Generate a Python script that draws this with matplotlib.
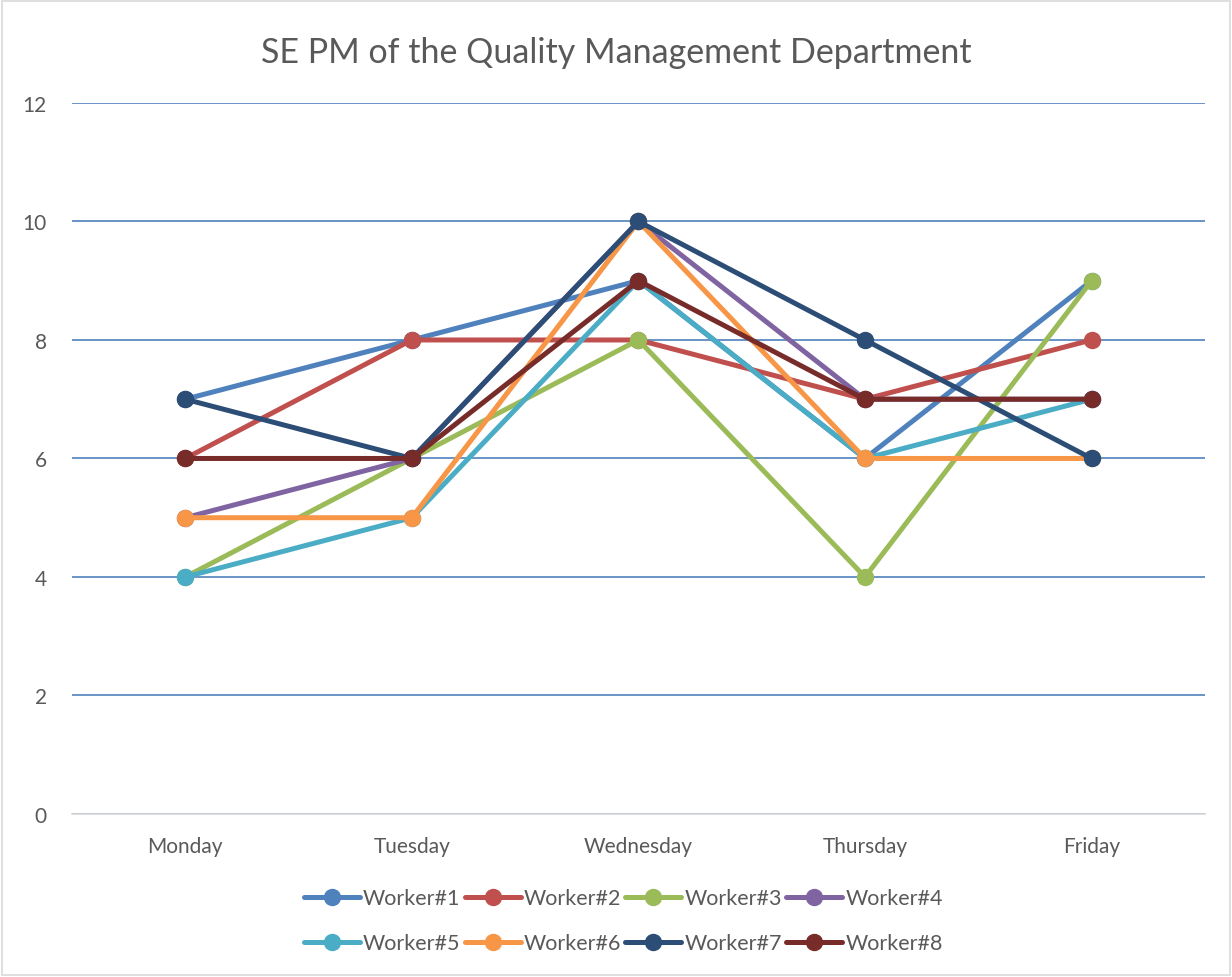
import matplotlib
matplotlib.use("Agg")
import matplotlib.pyplot as plt
from matplotlib.patches import Rectangle

days = ["Monday", "Tuesday", "Wednesday", "Thursday", "Friday"]
worker_names = ["Worker#1", "Worker#2", "Worker#3", "Worker#4",
                "Worker#5", "Worker#6", "Worker#7", "Worker#8"]
worker1 = [7, 8, 9, 6, 9]
worker2 = [6, 8, 8, 7, 8]
worker3 = [4, 6, 8, 4, 9]
worker4 = [5, 6, 10, 7, 7]
worker5 = [4, 5, 9, 6, 7]
worker6 = [5, 5, 10, 6, 6]
worker7 = [7, 6, 10, 8, 6]
worker8 = [6, 6, 9, 7, 7]
series = [worker1, worker2, worker3, worker4, worker5, worker6, worker7, worker8]
colors = ["#4F81BD", "#C0504D", "#9BBB59", "#8064A2",
          "#4BACC6", "#F79646", "#2C4D75", "#772C2A"]

plt.rcParams['font.family'] = ['Lato', 'DejaVu Sans']
txt_color = '#595959'

fig = plt.figure(figsize=(12.32, 9.78), dpi=100)
ax = fig.add_axes([0.0584, 0.1667, 0.9196, 0.727])

x = list(range(len(days)))
lines = []
for name, vals, c in zip(worker_names, series, colors):
    ln, = ax.plot(x, vals, color=c, lw=3.6, marker='o', markersize=11.5,
                  label=name, solid_capstyle='round')
    lines.append(ln)

ax.set_xlim(-0.5, len(days) - 0.5)
ax.set_ylim(0, 12)
ax.set_yticks(range(0, 13, 2))
ax.set_xticks(x)
ax.set_xticklabels(days)
ax.tick_params(length=0, labelsize=15, colors=txt_color, pad=16)
ax.tick_params(axis='y', pad=18)
ax.yaxis.grid(True, color='#4F81BD', lw=1.2)
ax.set_axisbelow(True)
for s in ['top', 'right', 'left']:
    ax.spines[s].set_visible(False)
ax.spines['bottom'].set_color('#D9D9D9')
ax.spines['bottom'].set_linewidth(1.2)

fig.suptitle("SE PM of the Quality Management Department", fontsize=24.5,
             color=txt_color, y=0.962)

# legend is filled column by column, so reorder to get W1..W4 on the first row
order = [0, 4, 1, 5, 2, 6, 3, 7]
fig.legend([lines[i] for i in order], [worker_names[i] for i in order],
           loc='center', bbox_to_anchor=(0.506, 0.0575), ncol=4, frameon=False,
           fontsize=15.5, labelcolor=txt_color, handlelength=2.6,
           handletextpad=0.15, columnspacing=0.2, labelspacing=1.15)

fig.patches.append(Rectangle((0.002, 0.002), 0.996, 0.996, transform=fig.transFigure,
                             fill=False, edgecolor='#D9D9D9', lw=1.2))

fig.savefig("out.png", dpi=100, facecolor='white')
